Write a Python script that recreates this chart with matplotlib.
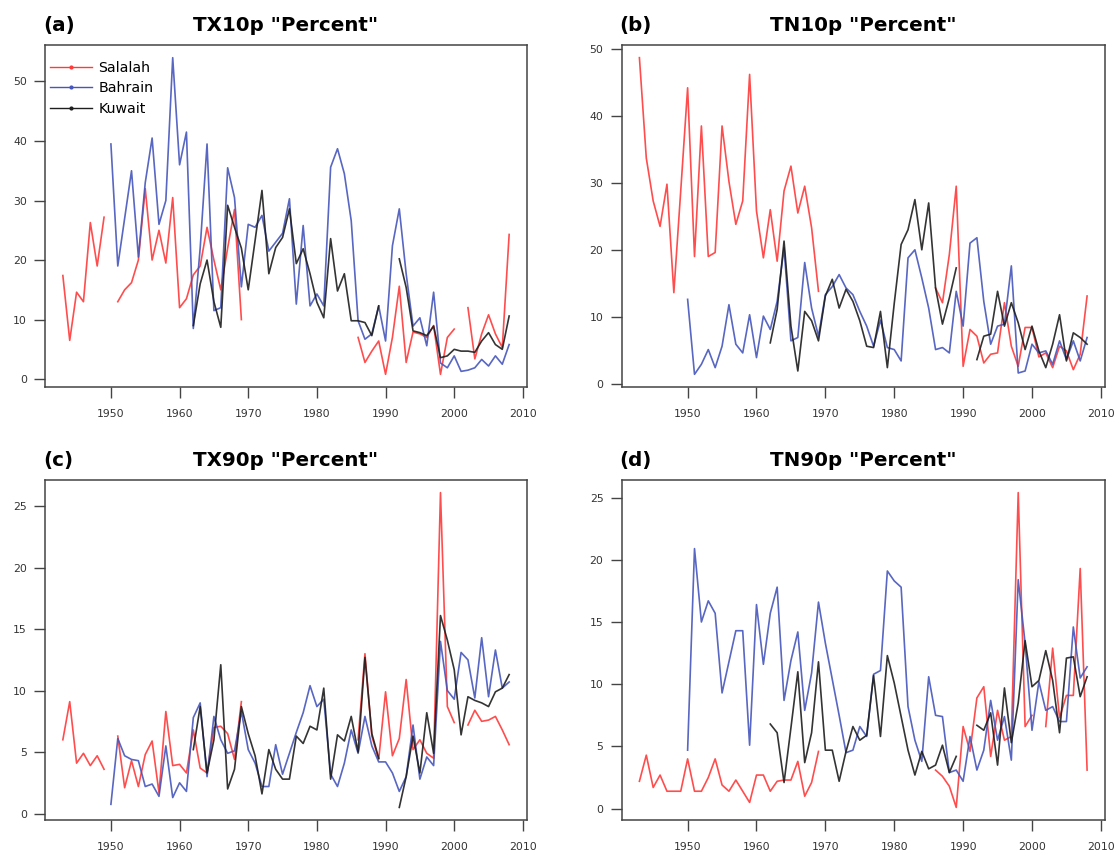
import numpy as np
import matplotlib
matplotlib.use("Agg")
import matplotlib.pyplot as plt
from matplotlib.lines import Line2D

nan = np.nan

# Station record periods
years_salalah = np.arange(1943, 2009)
years_bahrain = np.arange(1950, 2009)
years_kuwait = np.arange(1962, 2009)
GAP16 = [nan] * 16  # Salalah 1970-1985 missing

# TX10p (%)
tx10p_salalah = [17.4, 6.5, 14.6, 13.0, 26.3, 19.0, 27.2, nan, 13.0, 15.0, 16.2, 20.0, 32.0,
                 20.0, 25.0, 19.5, 30.5, 12.0, 13.5, 17.5, 19.0, 25.5, 20.0, 15.0, 22.0, 28.5,
                 10.0] + GAP16 + [7.0, 2.8, 4.7, 6.4, 0.8, 7.0, 15.6, 2.8, 7.9, 7.6, 7.0, 9.0,
                 0.8, 7.0, 8.4, nan, 12.0, 3.4, 7.6, 10.8, 7.6, 5.3, 24.3]
tx10p_bahrain = [39.5, 19.0, 27.0, 35.0, 20.5, 33.0, 40.5, 26.0, 30.0, 54.0, 36.0, 41.5, 8.5,
                 22.0, 39.5, 11.5, 12.0, 35.5, 30.5, 15.5, 26.0, 25.5, 27.5, 21.5, 23.0, 24.5,
                 30.3, 12.6, 25.8, 12.3, 14.3, 12.3, 35.6, 38.7, 34.5, 26.6, 9.8, 6.7, 7.6,
                 12.3, 6.4, 22.4, 28.6, 17.7, 8.9, 10.3, 5.6, 14.6, 2.7, 1.9, 3.9, 1.3, 1.5,
                 1.9, 3.3, 2.2, 3.9, 2.5, 5.8]
tx10p_kuwait = [9.0, 16.0, 20.0, 13.0, 8.7, 29.2, 25.5, 22.0, 15.0, 23.3, 31.7, 17.7, 22.1,
                23.8, 28.6, 19.4, 21.9, 17.7, 12.9, 10.3, 23.6, 14.8, 17.7, 9.8, 9.8, 9.5, 7.3,
                12.3, nan, nan, 20.2, 15.4, 8.1, 7.8, 7.3, 8.9, 3.6, 3.9, 5.0, 4.7, 4.7, 4.5,
                6.4, 7.8, 5.8, 5.0, 10.6]

# TN10p (%)
tn10p_salalah = [48.7, 33.7, 27.3, 23.5, 29.8, 13.6, 28.8, 44.2, 19.0, 38.5, 19.0, 19.6, 38.5,
                 30.2, 23.8, 27.3, 46.2, 25.8, 18.8, 26.0, 18.3, 28.8, 32.5, 25.5, 29.5, 23.3,
                 13.8] + GAP16 + [14.3, 12.1, 19.3, 29.5, 2.6, 8.1, 7.1, 3.1, 4.4, 4.6, 12.1,
                 5.6, 2.6, 8.4, 8.4, 4.0, 4.6, 2.4, 5.6, 4.9, 2.1, 4.4, 13.1]
tn10p_bahrain = [12.6, 1.4, 2.9, 5.1, 2.4, 5.6, 11.8, 5.9, 4.6, 10.3, 3.9, 10.1, 8.1, 12.3,
                 20.3, 6.4, 6.9, 18.1, 11.3, 7.1, 13.3, 14.5, 16.3, 14.3, 13.3, 10.8, 8.6, 5.6,
                 9.5, 5.4, 5.1, 3.4, 18.8, 20.0, 15.8, 11.3, 5.1, 5.4, 4.6, 13.8, 8.6, 21.0,
                 21.8, 12.3, 5.9, 8.6, 8.9, 17.6, 1.6, 1.9, 5.9, 4.6, 4.9, 2.9, 6.4, 3.6, 6.4,
                 3.4, 6.9]
tn10p_kuwait = [6.1, 11.1, 21.3, 8.6, 1.9, 10.8, 9.4, 6.4, 13.1, 15.6, 11.3, 14.1, 12.3, 9.4,
                5.6, 5.4, 10.8, 2.4, 12.0, 20.8, 23.0, 27.5, 20.0, 27.0, 14.3, 8.9, 12.8, 17.3,
                nan, nan, 3.6, 7.1, 7.4, 13.8, 8.6, 12.1, 9.1, 5.1, 8.6, 4.9, 2.4, 5.9, 10.3,
                3.4, 7.6, 6.9, 5.9]

# TX90p (%)
tx90p_salalah = [6.0, 9.1, 4.1, 4.9, 3.9, 4.7, 3.6, nan, 6.3, 2.1, 4.3, 2.2, 4.8, 5.9, 1.7,
                 8.3, 3.9, 4.0, 3.3, 6.8, 3.7, 3.3, 7.0, 7.1, 6.5, 4.4, 9.1] + GAP16 + [
                 6.0, 13.0, 6.3, 4.4, 9.9, 4.7, 6.1, 10.9, 5.2, 6.0, 4.9, 4.5, 26.1, 8.7, 7.4,
                 nan, 7.2, 8.4, 7.5, 7.6, 7.9, 6.8, 5.6]
tx90p_bahrain = [0.75, 6.1, 4.7, 4.4, 4.3, 2.2, 2.4, 1.4, 5.5, 1.3, 2.5, 1.8, 7.8, 9.0, 3.0,
                 7.9, 6.0, 4.9, 5.1, 8.3, 5.2, 4.1, 2.2, 2.2, 5.6, 3.2, 4.9, 6.6, 8.2, 10.4,
                 8.7, 9.3, 3.2, 2.2, 4.1, 6.8, 4.9, 7.9, 5.5, 4.2, 4.2, 3.3, 1.8, 3.0, 7.2, 2.8,
                 4.6, 3.9, 14.0, 10.0, 9.3, 13.1, 12.5, 9.4, 14.3, 9.5, 13.3, 10.2, 10.7]
tx90p_kuwait = [5.2, 8.7, 3.3, 6.0, 12.1, 2.0, 3.6, 8.7, 6.5, 4.7, 1.6, 5.2, 3.6, 2.8, 2.8,
                6.3, 5.7, 7.1, 6.8, 10.2, 2.8, 6.4, 5.9, 7.9, 5.0, 12.7, 6.5, 4.5, nan, nan,
                0.5, 3.0, 6.3, 3.3, 8.2, 4.9, 16.1, 14.1, 11.7, 6.4, 9.5, 9.2, 9.0, 8.7, 9.9,
                10.2, 11.3]

# TN90p (%)
tn90p_salalah = [2.2, 4.3, 1.7, 2.7, 1.4, 1.4, 1.4, 4.0, 1.4, 1.4, 2.5, 4.0, 1.9, 1.4, 2.3,
                 1.4, 0.5, 2.7, 2.7, 1.4, 2.2, 2.3, 2.3, 3.8, 1.0, 2.1, 4.6] + GAP16 + [
                 3.1, 2.6, 1.8, 0.1, 6.6, 4.6, 8.9, 9.8, 4.2, 7.9, 5.5, 5.8, 25.4, 6.6, 7.5,
                 nan, 6.6, 12.9, 7.3, 9.1, 9.1, 19.3, 3.1]
tn90p_bahrain = [4.7, 20.9, 15.0, 16.7, 15.7, 9.3, 11.8, 14.3, 14.3, 5.1, 16.4, 11.6, 15.7,
                 17.8, 8.7, 11.9, 14.2, 7.9, 10.9, 16.6, 13.3, 10.4, 7.5, 4.5, 4.7, 6.6, 5.8,
                 10.8, 11.1, 19.1, 18.3, 17.8, 8.2, 5.5, 3.8, 10.6, 7.5, 7.4, 2.9, 3.1, 2.2,
                 5.8, 3.1, 4.7, 8.7, 5.5, 7.4, 3.9, 18.4, 13.3, 6.3, 10.2, 7.9, 8.2, 7.0, 7.0,
                 14.6, 10.5, 11.4]
tn90p_kuwait = [6.8, 6.1, 2.1, 6.5, 11.0, 3.7, 6.1, 11.8, 4.7, 4.7, 2.2, 4.6, 6.6, 5.5, 5.9,
                10.7, 5.8, 12.3, 10.1, 7.4, 4.7, 2.7, 4.6, 3.2, 3.5, 5.1, 2.9, 4.2, nan, nan,
                6.7, 6.3, 7.7, 3.5, 9.7, 5.3, 8.5, 13.5, 9.8, 10.3, 12.7, 10.3, 6.1, 12.1,
                12.2, 9.0, 10.6]

stations = ["Salalah", "Bahrain", "Kuwait"]
colors = ["#ff3a3a", "#4656bb", "#1e1e1e"]

panels = [
    ("(a)", 'TX10p "Percent"', (tx10p_salalah, tx10p_bahrain, tx10p_kuwait), np.arange(0, 51, 10)),
    ("(b)", 'TN10p "Percent"', (tn10p_salalah, tn10p_bahrain, tn10p_kuwait), np.arange(0, 51, 10)),
    ("(c)", 'TX90p "Percent"', (tx90p_salalah, tx90p_bahrain, tx90p_kuwait), np.arange(0, 26, 5)),
    ("(d)", 'TN90p "Percent"', (tn90p_salalah, tn90p_bahrain, tn90p_kuwait), np.arange(0, 26, 5)),
]
year_sets = (years_salalah, years_bahrain, years_kuwait)

plt.rcParams["font.family"] = ["DejaVu Sans"]

W, H = 1118, 856
fig = plt.figure(figsize=(W / 100, H / 100), dpi=100)

# axes boxes in pixels: left, top, right, bottom
boxes = [(45, 45, 527, 387), (621.5, 45, 1105, 387),
         (45, 480, 527, 820), (621.5, 480, 1105, 820)]
label_pos = [(43, 31), (619, 31), (43, 466), (619, 466)]

for (tag, title, series, yticks), (l, t, r, b), (lx, ly) in zip(panels, boxes, label_pos):
    ax = fig.add_axes([l / W, 1 - b / H, (r - l) / W, (b - t) / H])
    for yrs, vals, c in zip(year_sets, series, colors):
        ax.plot(yrs, np.array(vals, dtype=float), color=c, lw=1.2, alpha=0.9)
    ax.margins(x=0.04, y=0.04)
    ax.set_xticks(np.arange(1950, 2011, 10))
    ax.set_yticks(yticks)
    ax.tick_params(direction="out", length=8, width=1.0, color="#444444",
                   labelsize=7.8, labelcolor="#333333")
    ax.tick_params(axis="x", pad=8)
    ax.tick_params(axis="y", pad=5)
    for s in ax.spines.values():
        s.set_color("#444444")
        s.set_linewidth(1.1)
    ax.set_title(title, fontsize=14.3, fontweight="bold", pad=10)
    fig.text(lx / W, 1 - ly / H, tag, fontsize=14.3, fontweight="bold",
             ha="left", va="baseline")
    if tag == "(a)":
        handles = [Line2D([], [], color=c, lw=1.0, marker="o", markersize=2)
                   for c in colors]
        ax.legend(handles, stations, loc="upper left", bbox_to_anchor=(0.0, 0.969),
                  frameon=False, fontsize=10.2, handlelength=3.0, handletextpad=0.42,
                  labelspacing=0.48, borderaxespad=0.0, borderpad=0.35, numpoints=1)

fig.savefig("out.png", dpi=100)
